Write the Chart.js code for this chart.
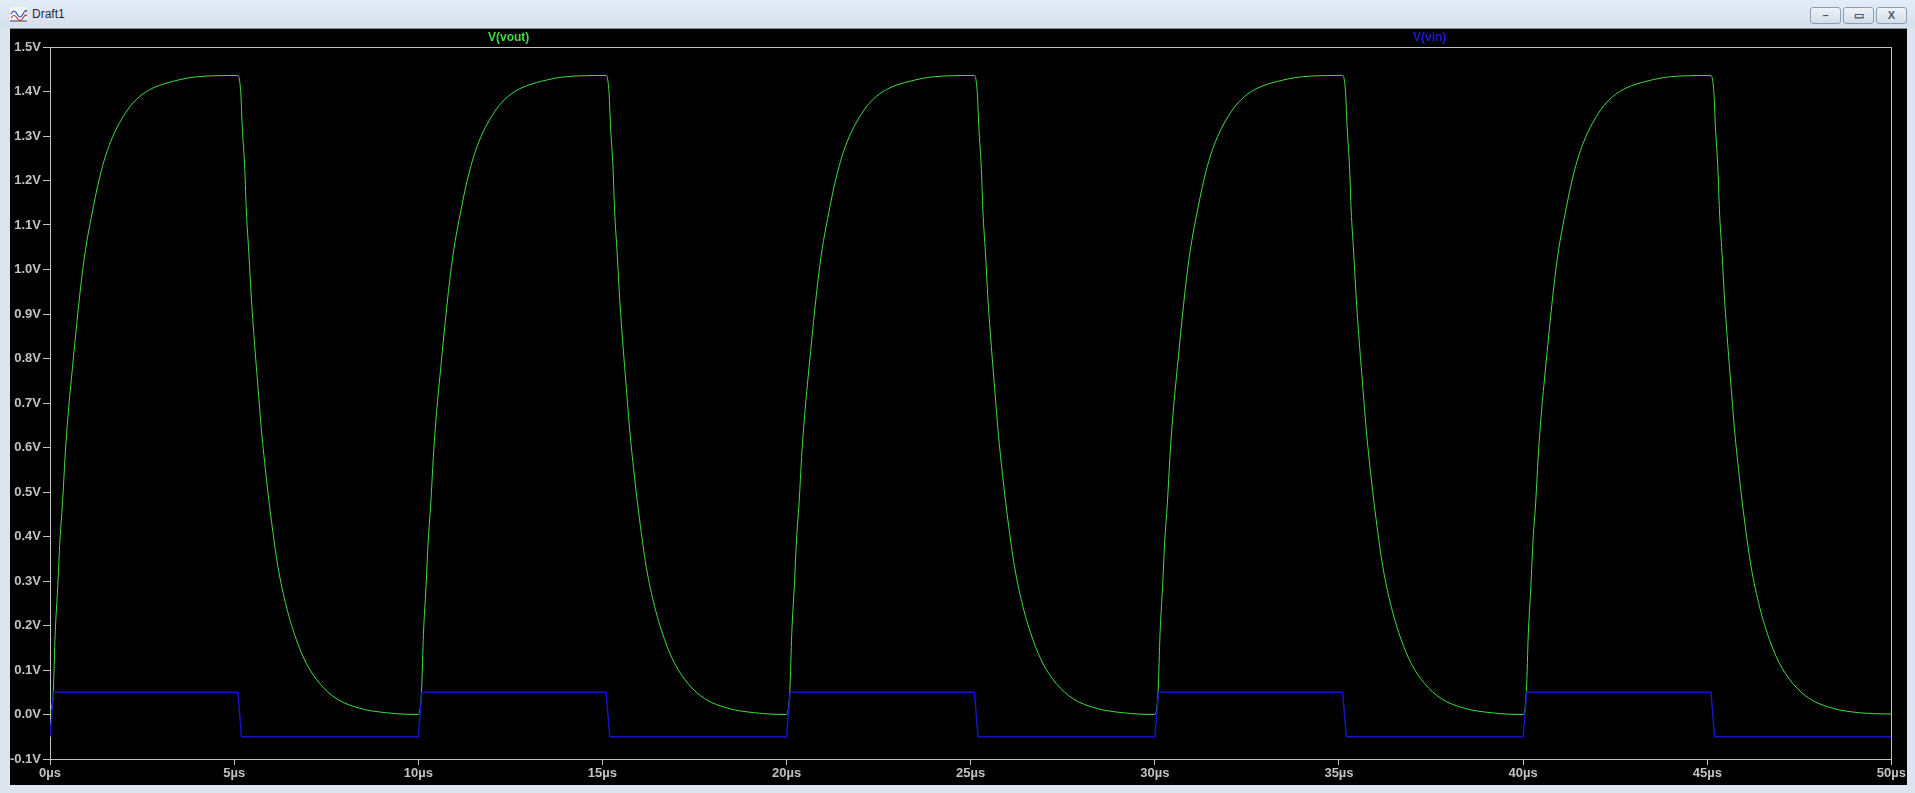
<!DOCTYPE html>
<html>
<head>
<meta charset="utf-8">
<script src="https://cdn.jsdelivr.net/npm/chart.js@4/dist/chart.umd.min.js"></script>
<style>
  html, body { margin: 0; padding: 0; }
  body { width: 1915px; height: 793px; background: #dbe4ef; position: relative; overflow: hidden; font-family: "Liberation Sans", Arial, sans-serif; }
  #titlebar { position: absolute; left: 0; top: 0; width: 1915px; height: 27px; background: linear-gradient(#e4ecf6, #d6e1ee); }
  #title { position: absolute; left: 32px; top: 7px; font-size: 12px; color: #1e2a38; }
  #icon { position: absolute; left: 10px; top: 7px; }
  .winbtn { position: absolute; top: 7px; width: 29px; height: 15px; border: 1px solid #8d9db3; border-radius: 3px; background: linear-gradient(#eef3f9, #d3dde9); color: #4a5a70; font-size: 11px; line-height: 15px; text-align: center; font-weight: bold; }
  #plotwin { position: absolute; left: 10px; top: 28px; width: 1897px; height: 757px; background: #000; border-top: 1px solid #7f8894; box-sizing: border-box; }
  #chartbox { position: absolute; left: 10px; top: 28px; width: 1897px; height: 757px; }
  .trace { position: absolute; top: 30px; font-size: 12px; font-weight: bold; }
</style>
</head>
<body>
<div id="titlebar">
  <svg id="icon" width="17" height="15" viewBox="0 0 17 15">
    <rect x="0" y="0" width="17" height="15" fill="#f4f6fa"/>
    <path d="M1 7 Q4 1 7 7 T13 7 T17 5" stroke="#2b4fd0" fill="none" stroke-width="1.2"/>
    <path d="M1 11 Q4 6 7 11 T13 11 T17 9" stroke="#d03030" fill="none" stroke-width="1.2"/>
    <line x1="0" y1="14" x2="17" y2="14" stroke="#333" stroke-width="1"/>
  </svg>
  <div id="title">Draft1</div>
  <div class="winbtn" style="left:1810px;">&#8211;</div>
  <div class="winbtn" style="left:1843px;">&#9645;</div>
  <div class="winbtn" style="left:1876px;">X</div>
</div>
<div id="plotwin"></div>
<div id="chartbox"><canvas id="chart"></canvas></div>
<div class="trace" style="left:488px; color:#3fdc3f;">V(vout)</div>
<div class="trace" style="left:1413px; color:#1c1cd0;">V(vin)</div>

<script>
// time axis in microseconds, values in volts
const cycleStarts = [0, 10, 20, 30, 40];

// one period of V(vout)
const voutTimes = [0, 0.09, 0.14, 0.21, 0.27, 0.34, 0.41, 0.48, 0.57, 0.90, 1.18, 1.40, 1.65, 2.10, 2.44, 2.80, 3.35, 3.98, 5.10,
  5.18, 5.22, 5.29, 5.33, 5.40, 5.47, 5.56, 5.65, 5.74, 5.88, 6.01, 6.19, 6.42, 6.69, 6.96, 7.32, 7.77, 8.41, 9.13];
const voutValues = [0, 0.055, 0.18, 0.287, 0.392, 0.475, 0.58, 0.662, 0.745, 1.007, 1.142, 1.224, 1.288, 1.358, 1.389, 1.408, 1.423, 1.433, 1.436,
  1.397, 1.322, 1.224, 1.134, 1.037, 0.932, 0.827, 0.733, 0.640, 0.527, 0.437, 0.332, 0.242, 0.168, 0.115, 0.070, 0.036, 0.014, 0.004];

// one period of the V(vin) pulse
const vinTimes = [0, 0.1, 5.1, 5.2];
const vinValues = [-0.05, 0.05, 0.05, -0.05];

const endTime = 50;
const voutEnd = 0.001;
const vinEnd = -0.05;

const xTicks = [0, 5, 10, 15, 20, 25, 30, 35, 40, 45, 50];
const yTicks = [-0.1, 0, 0.1, 0.2, 0.3, 0.4, 0.5, 0.6, 0.7, 0.8, 0.9, 1.0, 1.1, 1.2, 1.3, 1.4, 1.5];

function buildSeries(times, values, endValue) {
  const points = cycleStarts.flatMap((start) => times.map((t, i) => ({ x: start + t, y: values[i] })));
  points.push({ x: endTime, y: endValue });
  return points;
}

const axisColor = '#c2c2c2';
const labelFont = { family: 'Liberation Sans', size: 13, weight: 'bold' };

const frame = {
  id: 'frame',
  beforeDatasetsDraw(chart) {
    const { ctx, chartArea } = chart;
    ctx.save();
    ctx.strokeStyle = axisColor;
    ctx.lineWidth = 1;
    ctx.strokeRect(Math.round(chartArea.left) + 0.5, Math.round(chartArea.top) + 0.5,
      Math.round(chartArea.right - chartArea.left), Math.round(chartArea.bottom - chartArea.top));
    ctx.restore();
  }
};

new Chart(document.getElementById('chart').getContext('2d'), {
  type: 'line',
  data: {
    datasets: [
      {
        label: 'V(vin)',
        data: buildSeries(vinTimes, vinValues, vinEnd),
        borderColor: '#1515c4',
        borderWidth: 1.5,
        pointRadius: 0,
        tension: 0
      },
      {
        label: 'V(vout)',
        data: buildSeries(voutTimes, voutValues, voutEnd),
        borderColor: '#3fdc3f',
        borderWidth: 1,
        pointRadius: 0,
        cubicInterpolationMode: 'monotone'
      }
    ]
  },
  options: {
    responsive: true,
    maintainAspectRatio: false,
    animation: false,
    layout: { padding: { top: 19, right: 14, left: 0, bottom: 0 } },
    plugins: { legend: { display: false }, tooltip: { enabled: false } },
    scales: {
      x: {
        type: 'linear',
        min: 0,
        max: 50,
        afterBuildTicks: (scale) => { scale.ticks = xTicks.map((v) => ({ value: v })); },
        afterFit: (scale) => { scale.height = 26; },
        ticks: { color: axisColor, font: labelFont, padding: 1, maxRotation: 0, callback: (v) => `${v}µs` },
        grid: { drawOnChartArea: false, color: axisColor, tickLength: 6 },
        border: { color: axisColor }
      },
      y: {
        min: -0.1,
        max: 1.5,
        afterBuildTicks: (scale) => { scale.ticks = yTicks.map((v) => ({ value: v })); },
        afterFit: (scale) => { scale.width = 40; },
        ticks: { color: axisColor, font: labelFont, padding: 2, callback: (v) => `${Number(v).toFixed(1)}V` },
        grid: { drawOnChartArea: false, color: axisColor, tickLength: 7 },
        border: { color: axisColor }
      }
    }
  },
  plugins: [frame]
});
</script>
</body>
</html>
